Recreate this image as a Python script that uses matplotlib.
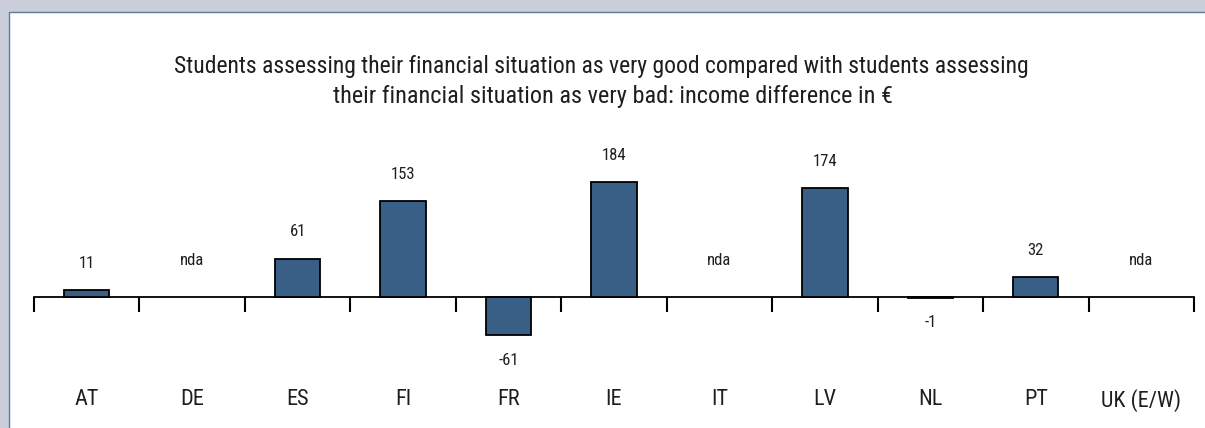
import matplotlib
matplotlib.use("Agg")
import matplotlib.pyplot as plt
from matplotlib.patches import Rectangle
import numpy as np

plt.rcParams['font.family'] = ['Roboto Condensed', 'Liberation Sans Narrow', 'Roboto', 'DejaVu Sans']
plt.rcParams['text.color'] = "#1e1e1e"

countries = ["AT", "DE", "ES", "FI", "FR", "IE", "IT", "LV", "NL", "PT", "UK (E/W)"]
# income difference in EUR; None = no data available
diff = [11, None, 61, 153, -61, 184, None, 174, -1, 32, None]

BAR = "#3a5f87"
W, H = 1205, 428

fig = plt.figure(figsize=(W / 100, H / 100), dpi=100, facecolor="#cbcfdb")
# white content panel
fig.patches.append(Rectangle((9 / W, -0.01), 1.01 - 9 / W, 1.01 - 12 / H, transform=fig.transFigure,
                             facecolor="white", edgecolor="#5b7a9c", linewidth=1.0, zorder=-5))

# axes: zero line at y=297 px, 0.625 px per EUR
ax_top, ax_bot, zero_px = 150, 345, 297
scale = 0.625
ax = fig.add_axes([34 / W, (H - ax_bot) / H, 1160 / W, (ax_bot - ax_top) / H])
ax.set_zorder(2)
ax.set_facecolor("none")
ax.set_xlim(-0.5, len(countries) - 0.5)
ax.set_ylim(-(ax_bot - zero_px) / scale, (zero_px - ax_top) / scale)

x = np.arange(len(countries))
for xi, v in zip(x, diff):
    if v is None:
        ax.text(xi, 59, "nda", ha="center", va="center", fontsize=12, clip_on=False)
        continue
    ax.bar(xi, v, width=0.43, color=BAR, edgecolor="black", linewidth=1.3, zorder=3)
    off = 43 if v >= 0 else -40
    ax.text(xi, v + off, f"{v}", ha="center", va="center", fontsize=12, clip_on=False)

for s in ("top", "left", "right"):
    ax.spines[s].set_visible(False)
ax.spines["bottom"].set_position(("data", 0))
ax.spines["bottom"].set_linewidth(1.3)
ax.set_yticks([])
ax.set_xticks(x)
ax.set_xticklabels(countries, fontsize=16, color="#1e1e1e")
ax.set_xticks(np.arange(len(countries) + 1) - 0.5, minor=True)
ax.tick_params(axis="x", which="major", length=0, pad=66)
ax.tick_params(axis="x", which="minor", length=11, width=1.5, direction="out")

fig.text(601 / W, 1 - 67 / H,
         "Students assessing their financial situation as very good compared with students assessing",
         ha="center", va="center", fontsize=17)
fig.text(613 / W, 1 - 97 / H,
         "their financial situation as very bad: income difference in €",
         ha="center", va="center", fontsize=17.5)

fig.savefig("out.png", dpi=100, facecolor=fig.get_facecolor())
